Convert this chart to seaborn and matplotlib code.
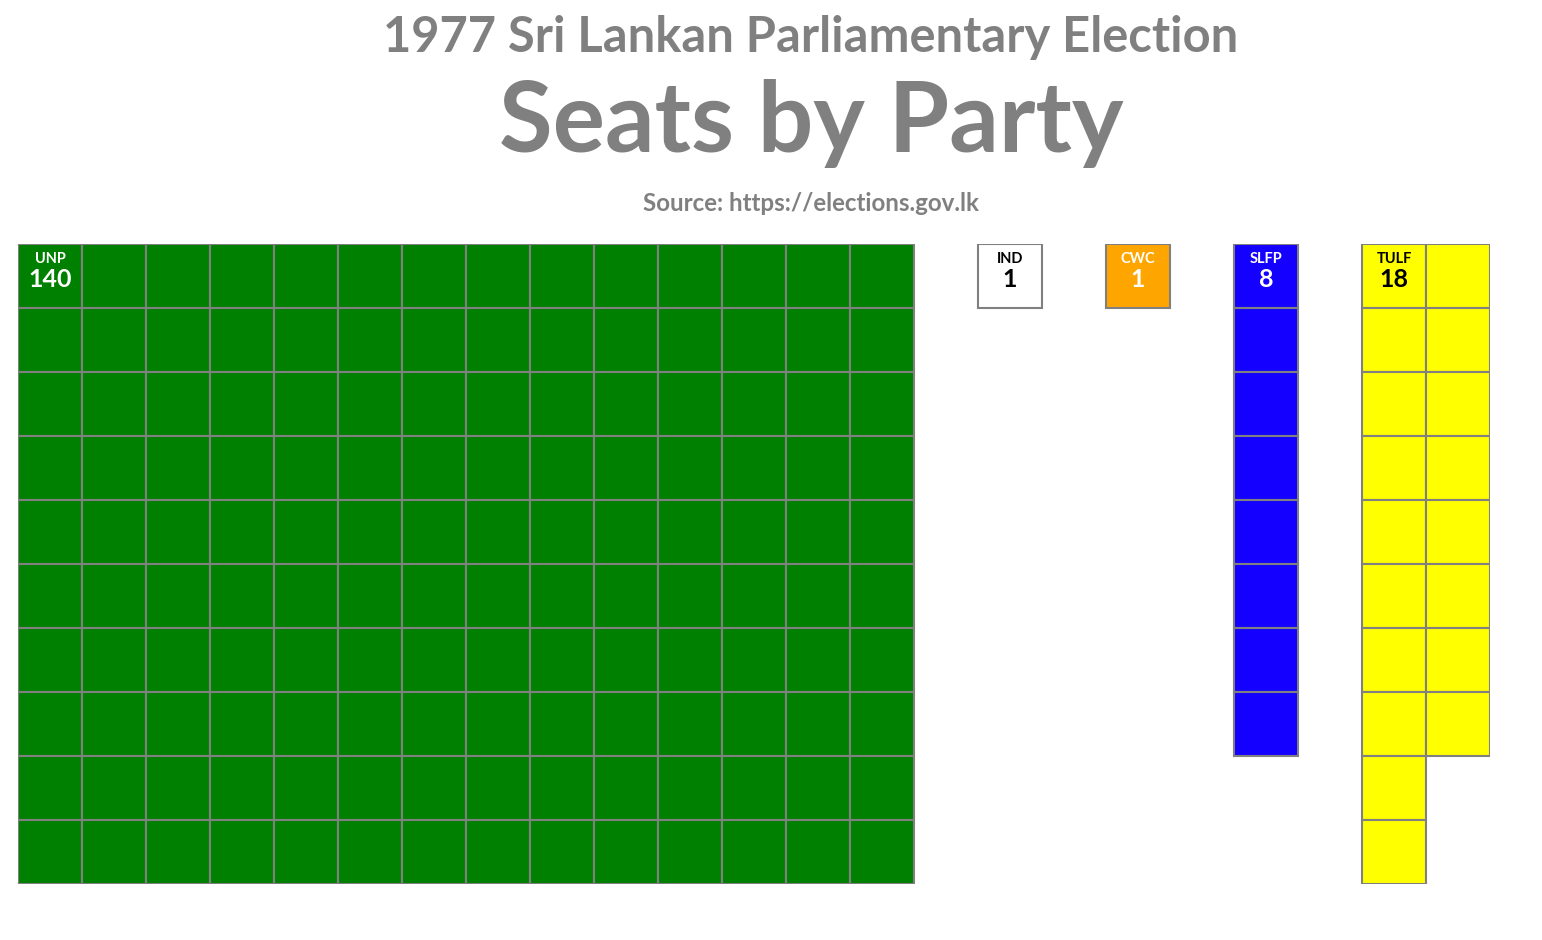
import numpy as np
import pandas as pd
import seaborn as sns
import matplotlib.pyplot as plt

# Seats won per party, 1977
parties = ["UNP", "IND", "CWC", "SLFP", "TULF"]
seats = [140, 1, 1, 8, 18]
fill_colors = ["#008000", "#ffffff", "#ffa500", "#1400ff", "#ffff00"]
text_colors = ["white", "black", "white", "white", "black"]

n_rows = 10
gap = 1

sns.set_theme(style="white")
plt.rcParams["font.family"] = ["Lato", "DejaVu Sans"]

# one row per seat: column / row in the waffle grid
cells = []
col0 = 0
for p, s in zip(parties, seats):
    for i in range(s):
        cells.append({"party": p, "col": col0 + i // n_rows, "row": i % n_rows})
    col0 += int(np.ceil(s / n_rows)) + gap
df = pd.DataFrame(cells)
n_cols = col0 - gap

fig = plt.figure(figsize=(15.42, 9.40), dpi=100)
W, H = 1542, 940
ax = fig.add_axes([18 / W, (H - 884) / H, 1472 / W, 640 / H])

for p, fc, tc in zip(parties, fill_colors, text_colors):
    d = df[df["party"] == p]
    ax.bar(d["col"] + 0.5, 1, bottom=d["row"], width=1, color=fc,
           edgecolor="#808080", linewidth=1.5)
    first = d.iloc[0]
    ax.text(first["col"] + 0.5, first["row"] + 0.23, p, ha="center", va="center",
            color=tc, fontsize=10.5, fontweight="bold")
    ax.text(first["col"] + 0.5, first["row"] + 0.55, str(len(d)), ha="center", va="center",
            color=tc, fontsize=18, fontweight="bold")

ax.set_xlim(0, n_cols)
ax.set_ylim(n_rows, 0)
ax.axis("off")

grey = "#808080"
cx = 811 / W
fig.text(cx, 1 - 52 / H, "1977 Sri Lankan Parliamentary Election", ha="center", va="baseline",
         color=grey, fontsize=35.2, fontweight="bold")
fig.text(cx, 1 - 152 / H, "Seats by Party", ha="center", va="baseline",
         color=grey, fontsize=70.5, fontweight="bold")
fig.text(cx, 1 - 211 / H, "Source: https://elections.gov.lk", ha="center", va="baseline",
         color=grey, fontsize=17.4, fontweight="bold")

fig.savefig("out.png", dpi=100)
